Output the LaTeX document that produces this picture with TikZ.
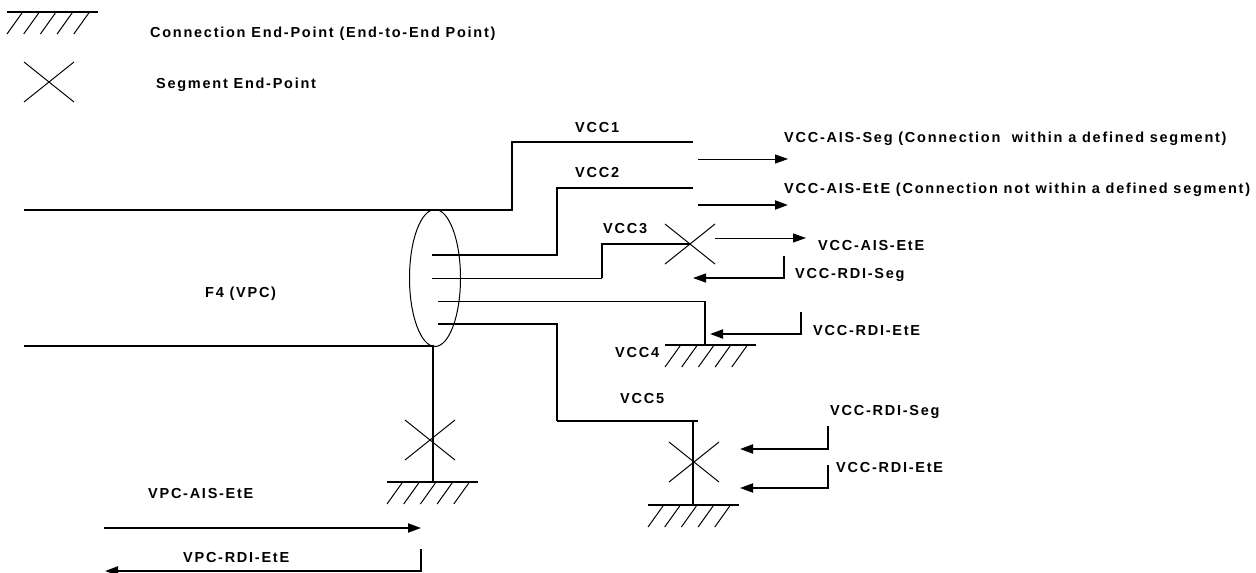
\documentclass[tikz,border=0pt]{standalone}
\usepackage{fontspec}
\setmainfont{Liberation Sans}[LetterSpace=12]
\usetikzlibrary{arrows.meta,shapes.geometric}

\tikzset{
  heavy/.style={line width=2pt},
  light/.style={line width=1pt},
  sig/.style={-{Triangle[length=13pt,width=9pt]}},
  lbl/.style={font=\bfseries\fontsize{14.5}{16}\selectfont, anchor=west,
    inner sep=0pt, text height=10.4pt, text depth=0pt},
  ground/.pic={
    \draw[heavy] (0,0) -- (91,0);
    \foreach \i in {0,...,4}
      \draw[light] ({\i*16.7},22) -- ({\i*16.7+15},1);
  },
  segx/.pic={
    \draw[light] (-25,-20) -- (25,20) (-25,20) -- (25,-20);
  }
}

\begin{document}
\begin{tikzpicture}[x=1pt,y=-1pt]
\useasboundingbox (0,0) rectangle (1256,573);

% legend
\pic at (7,12) {ground};
\node[lbl] (legcep) at (150,32) {Connection End-Point (End-to-End Point)};
\pic at (49,82) {segx};
\node[lbl] (legsep) at (156,83) {Segment End-Point};

% the VPC and its bundle of VCCs
\node[draw, light, ellipse, inner sep=0pt, minimum width=51, minimum height=137] (bundle) at (435,278) {};
\node[lbl] (f4) at (205,292) {F4 (VPC)};
\coordinate (vpctop) at (24,210);
\coordinate (vpcbot) at (24,346);
\coordinate (vpcend) at (433,482);

\draw[heavy] (vpctop) -- (512,210) -- (512,142) -- (693,142);
\draw[heavy] (vpcbot) -- (433,346) -- (vpcend);
\pic at (430,440) {segx};
\pic at (387,482) {ground};

% VCC1
\node[lbl] (vcc1) at (575,127) {VCC1};
\draw[light,sig] (698,159) -- (788,159);
\node[lbl] (aisseg) at (784,137) {VCC-AIS-Seg (Connection~ within a defined segment)};

% VCC2
\node[lbl] (vcc2) at (575,172) {VCC2};
\draw[heavy] (432,255) -- (557,255) -- (557,188) -- (693,188);
\draw[heavy,sig] (698,205) -- (788,205);
\node[lbl] (aisete) at (784,188) {VCC-AIS-EtE (Connection not within a defined segment)};

% VCC3
\node[lbl] (vcc3) at (603,228) {VCC3};
\coordinate (x3) at (690,244);
\draw[light] (432,278) -- (602,278);
\draw[heavy] (602,278) -- (602,244) -- (x3);
\pic at (x3) {segx};
\draw[light,sig] (715,238) -- (806,238);
\node[lbl] (ais3) at (818,245) {VCC-AIS-EtE};
\draw[line width=1.3pt,sig] (784,256) -- (784,278) -- (693,278);
\node[lbl] (rdi3) at (795,273) {VCC-RDI-Seg};

% VCC4
\node[lbl] (vcc4) at (615,352) {VCC4};
\draw[light] (438,301) -- (705,301);
\draw[heavy] (705,301) -- (705,345);
\pic at (665,345) {ground};
\draw[heavy,sig] (801,312) -- (801,334) -- (710,334);
\node[lbl] (rdi4) at (813,330) {VCC-RDI-EtE};

% VCC5
\node[lbl] (vcc5) at (620,398) {VCC5};
\draw[heavy] (438,324) -- (557,324) -- (557,421);
\draw[line width=1.3pt] (557,421) -- (698,421);
\draw[heavy] (693,421) -- (693,505);
\pic at (694,462) {segx};
\pic at (648,505) {ground};
\draw[heavy,sig] (828,426) -- (828,449) -- (740,449);
\node[lbl] (rdi5s) at (830,410) {VCC-RDI-Seg};
\draw[heavy,sig] (828,465) -- (828,488) -- (740,488);
\node[lbl] (rdi5e) at (836,467) {VCC-RDI-EtE};

% VPC signals
\node[lbl] (vpcais) at (148,493) {VPC-AIS-EtE};
\draw[heavy,sig] (104,528) -- (421,528);
\node[lbl] (vpcrdi) at (183,557) {VPC-RDI-EtE};
\draw[heavy,sig] (421,549) -- (421,571) -- (105,571);
\end{tikzpicture}
\end{document}
